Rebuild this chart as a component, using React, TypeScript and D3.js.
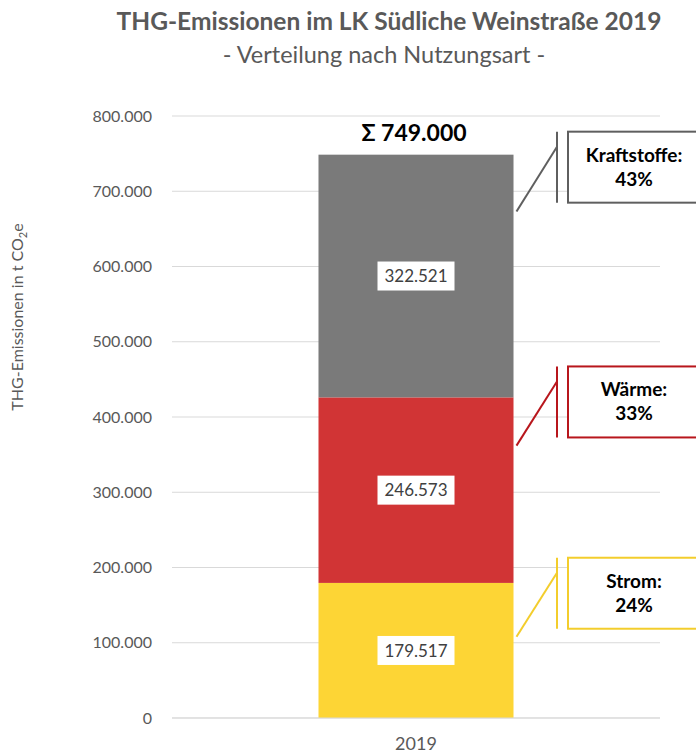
import * as d3 from 'd3'

const categories = ['2019']
const segments = ['Strom', 'Wärme', 'Kraftstoffe']
const values = [179517, 246573, 322521]
const valueLabels = ['179.517', '246.573', '322.521']
const percentLabels = ['24%', '33%', '43%']
const colors = ['#fdd535', '#d13435', '#7a7a7a']
const lineColors = ['#f3cd2c', '#b8161c', '#5f5f5f']
// callout box centre and leader start, in t CO2e
const calloutValues = [165800, 420000, 732000]
const leaderValues = [108000, 362000, 673000]
const sumLabel = 'Σ 749.000'
const yTicks = [0, 100000, 200000, 300000, 400000, 500000, 600000, 700000, 800000]

const W = 696
const H = 754
const font = 'Lato, "Open Sans", sans-serif'

export default function App() {
  const margin = { top: 116, left: 172, right: 36, bottom: 36 }
  const y = d3.scaleLinear().domain([0, 800000]).range([718, 116])
  const x = d3.scaleBand().domain(categories).range([172, 660]).paddingInner(0.2).paddingOuter(0.601)
  const fmt = (v: number) => d3.format(',')(v).replace(/,/g, '.')

  const stack = d3.cumsum(values)
  const starts = [0, ...Array.from(stack).slice(0, -1)]
  const bx = x('2019') as number
  const bw = x.bandwidth()
  const cx = bx + bw / 2

  const boxX = 568
  const boxW = 132
  const boxH = 71
  const lineX = 557

  return (
    <svg width={W} height={H} style={{ position: 'absolute', left: 0, top: 0, background: '#fff' }} fontFamily={font}>
      <text x={389} y={30} textAnchor="middle" fontSize={24.5} fontWeight="bold" fill="#595959">
        THG-Emissionen im LK Südliche Weinstraße 2019
      </text>
      <text x={384} y={63} textAnchor="middle" fontSize={23.5} fill="#595959">
        - Verteilung nach Nutzungsart -
      </text>

      {yTicks.map((t) => (
        <g key={t}>
          <line x1={margin.left} x2={W - margin.right} y1={y(t)} y2={y(t)} stroke="#d9d9d9" strokeWidth={1} />
          <text x={152} y={y(t)} dy="0.35em" textAnchor="end" fontSize={16} fill="#595959">
            {t === 0 ? '0' : fmt(t)}
          </text>
        </g>
      ))}

      <text transform={`translate(23,${317}) rotate(-90)`} textAnchor="middle" fontSize={16} fill="#595959">
        THG-Emissionen in t CO<tspan fontSize={11} dy={4}>2</tspan><tspan dy={-4}>e</tspan>
      </text>

      {values.map((v, i) => {
        const y0 = y(starts[i])
        const y1 = y(starts[i] + v)
        const my = (y0 + y1) / 2
        return (
          <g key={segments[i]}>
            <rect x={bx} y={y1} width={bw} height={y0 - y1} fill={colors[i]} />
            <rect x={cx - 38.5} y={my - 14.5} width={77} height={29} fill="#fff" />
            <text x={cx} y={my} dy="0.36em" textAnchor="middle" fontSize={17} fill="#404040">
              {valueLabels[i]}
            </text>
          </g>
        )
      })}

      <line x1={margin.left} x2={W - margin.right} y1={y(0)} y2={y(0)} stroke="#d9d9d9" strokeWidth={1} />

      <text x={cx - 2} y={141} textAnchor="middle" fontSize={23} fontWeight="bold" fill="#000">
        {sumLabel}
      </text>

      {segments.map((s, i) => {
        const by = y(calloutValues[i]) - boxH / 2
        const ly = y(leaderValues[i])
        return (
          <g key={s}>
            <line x1={bx + bw + 3} y1={ly} x2={lineX} y2={by + 15} stroke={lineColors[i]} strokeWidth={2} />
            <line x1={lineX} x2={lineX} y1={by} y2={by + boxH} stroke={lineColors[i]} strokeWidth={2} />
            <rect x={boxX} y={by} width={boxW} height={boxH} fill="#fff" stroke={lineColors[i]} strokeWidth={2} />
            <text x={boxX + 66} y={by + 30} textAnchor="middle" fontSize={19} fontWeight="bold" fill="#000">
              {s}:
            </text>
            <text x={boxX + 66} y={by + 54} textAnchor="middle" fontSize={19} fontWeight="bold" fill="#000">
              {percentLabels[i]}
            </text>
          </g>
        )
      })}

      <text x={cx} y={744} dy="0.35em" textAnchor="middle" fontSize={18} fill="#595959">
        {categories[0]}
      </text>
    </svg>
  )
}
